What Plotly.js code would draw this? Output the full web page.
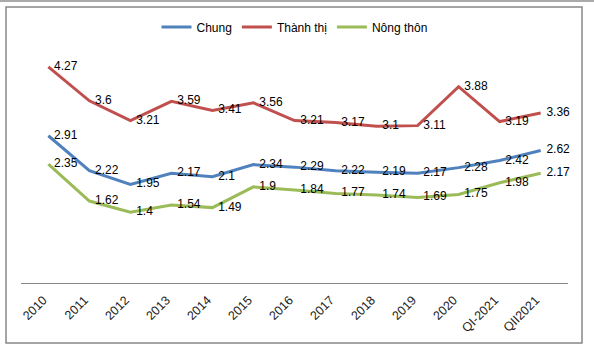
<!DOCTYPE html>
<html><head><meta charset="utf-8">
<script src="https://cdn.plot.ly/plotly-3.0.1.min.js"></script>
<style>html,body{margin:0;padding:0;background:#fff;}#c{width:594px;height:355px;}</style>
</head><body><div id="c"></div>
<script>
const categories = ["2010","2011","2012","2013","2014","2015","2016","2017","2018","2019","2020","QI-2021","QII2021"];
const chung = [2.91,2.22,1.95,2.17,2.1,2.34,2.29,2.22,2.19,2.17,2.28,2.42,2.62];
const thanhThi = [4.27,3.6,3.21,3.59,3.41,3.56,3.21,3.17,3.1,3.11,3.88,3.19,3.36];
const nongThon = [2.35,1.62,1.4,1.54,1.49,1.9,1.84,1.77,1.74,1.69,1.75,1.98,2.17];
const seriesNames = ["Chung","Thành thị","Nông thôn"];

const font = "Liberation Sans, Arial, sans-serif";
function tr(name, y, color){
  return {type:"scatter", mode:"lines+text", name:name, x:categories, y:y,
    text:y.map(v => "\u00A0\u2009" + String(v)), textposition:"middle right", cliponaxis:false,
    textfont:{family:font,size:12,color:"#000"},
    line:{color:color,width:3}, marker:{size:6}};
}
const data = [tr(seriesNames[0],chung,"#4F81BD"), tr(seriesNames[1],thanhThi,"#C0504D"), tr(seriesNames[2],nongThon,"#9BBB59")];
const layout = {
  width:594, height:355, margin:{l:21,r:26,t:30,b:72},
  paper_bgcolor:"#fff", plot_bgcolor:"#fff",
  font:{family:font,size:12,color:"#000"},
  showlegend:true,
  legend:{orientation:"h", x:0.5, xanchor:"center", y:1.012, yanchor:"middle", font:{size:12}, traceorder:"normal", itemwidth:30},
  xaxis:{type:"category", showline:true, linecolor:"#888", linewidth:1, ticks:"", tickangle:-45, tickfont:{size:12.5,color:"#222"}, ticklabelstandoff:4, ticklabelshift:-5, showgrid:false, zeroline:false, fixedrange:true},
  yaxis:{range:[0,5], showgrid:false, zeroline:false, showticklabels:false, showline:false, fixedrange:true},
  shapes:[
    {type:"rect", xref:"paper", yref:"paper", x0:-0.0274, x1:1.0256, y0:-0.237, y1:1.091, line:{color:"#888",width:1.5}},
    {type:"line", xref:"paper", yref:"paper", x0:-0.05, x1:1.06, y0:1.1146, y1:1.1146, line:{color:"#aaa",width:2}}
  ]
};
Plotly.newPlot("c", data, layout, {displayModeBar:false, staticPlot:true});
</script></body></html>
